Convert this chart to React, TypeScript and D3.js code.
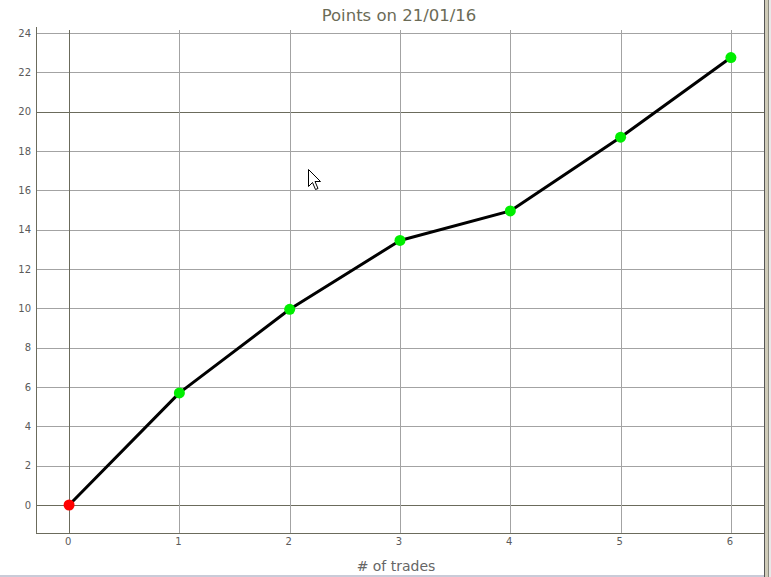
import React from "react";
import * as d3 from "d3";

const trades = [0, 1, 2, 3, 4, 5, 6];
const points = [0, 5.7, 9.95, 13.45, 14.95, 18.7, 22.75];
const yTicks = [0, 2, 4, 6, 8, 10, 12, 14, 16, 18, 20, 22, 24];
const xTicks = [0, 1, 2, 3, 4, 5, 6];
const title = "Points on 21/01/16";
const xLabel = "# of trades";

const W = 771;
const H = 577;

export default function App() {
  const x = d3.scaleLinear().domain([-0.3, 6.3]).range([36, 764]);
  const y = d3.scaleLinear().domain([0, 24]).range([505, 33]);
  const yBottom = y(-1.42);
  const line = d3
    .line<number>()
    .x((_, i) => x(trades[i]))
    .y((d) => y(d));
  const dark = "#6b6b5c";
  const light = "#a3a3a3";
  const font = "Verdana, 'DejaVu Sans', sans-serif";
  return (
    <div style={{ position: "fixed", left: 0, top: 0 }}>
      <svg width={W} height={H} style={{ display: "block", background: "#fff" }}>
        <text x={399} y={21} textAnchor="middle" fontFamily={font} fontSize={16.5} fill="#6b6b57">
          {title}
        </text>
        {/* horizontal grid */}
        {yTicks.map((t) => (
          <line
            key={"h" + t}
            x1={36}
            x2={764}
            y1={Math.round(y(t)) + 0.5}
            y2={Math.round(y(t)) + 0.5}
            stroke={t === 0 || t === 20 ? dark : light}
            strokeWidth={1}
          />
        ))}
        {/* vertical grid */}
        {xTicks.map((t) => (
          <line
            key={"v" + t}
            x1={Math.round(x(t)) + 0.5}
            x2={Math.round(x(t)) + 0.5}
            y1={30}
            y2={yBottom}
            stroke={t === 0 ? dark : light}
            strokeWidth={1}
          />
        ))}
        {/* axes */}
        <line x1={36.5} x2={36.5} y1={27} y2={yBottom} stroke={dark} />
        <line x1={36} x2={764} y1={Math.round(yBottom) + 0.5} y2={Math.round(yBottom) + 0.5} stroke={dark} />
        {yTicks.map((t) => (
          <text
            key={"yl" + t}
            x={31}
            y={y(t) + 3.5}
            textAnchor="end"
            fontFamily={font}
            fontSize={10}
            fill="#5a5a5a"
          >
            {t}
          </text>
        ))}
        {xTicks.map((t) => (
          <text
            key={"xl" + t}
            x={x(t) - 1}
            y={545}
            textAnchor="middle"
            fontFamily={font}
            fontSize={10}
            fill="#5a5a5a"
          >
            {t}
          </text>
        ))}
        <text x={396} y={571} textAnchor="middle" fontFamily={font} fontSize={14} fill="#666">
          {xLabel}
        </text>
        <path d={line(points) || ""} fill="none" stroke="#000" strokeWidth={3} strokeLinejoin="round" />
        {points.map((p, i) => (
          <circle key={"c" + i} cx={x(trades[i])} cy={y(p)} r={5.5} fill={i === 0 ? "#ff0000" : "#00ee00"} />
        ))}
        {/* cursor */}
        <path
          d="M308.5,169.5 L308.5,186.5 L312.5,182.5 L315.5,189.5 L318,188.5 L315,181.5 L320.5,181.5 Z"
          fill="#fff"
          stroke="#000"
          strokeWidth={1}
        />
        {/* window frame */}
        <rect x={764} y={0} width={1} height={H} fill="#555" />
        <rect x={765} y={0} width={3} height={H} fill="#cfcbb8" />
        <rect x={768} y={0} width={1} height={H} fill="#8a8a80" />
        <rect x={769} y={0} width={2} height={H} fill="#e8e8e8" />
        <rect x={0} y={575} width={764} height={2} fill="#c9cbd8" />
      </svg>
    </div>
  );
}
